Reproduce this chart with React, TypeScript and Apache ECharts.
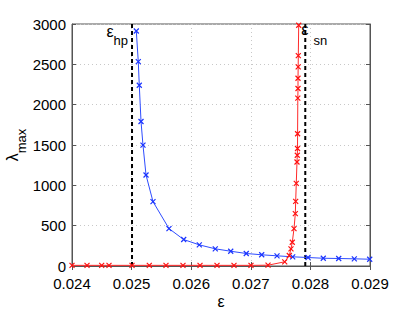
import React, { useEffect, useRef } from "react";
import * as echarts from "echarts";

const xTicks = [0.024, 0.025, 0.026, 0.027, 0.028, 0.029];
const yTicks = [0, 500, 1000, 1500, 2000, 2500, 3000];

const blueX = [0.025079, 0.025112, 0.025129, 0.025158, 0.025191, 0.025242, 0.025359, 0.025627, 0.025874, 0.026136, 0.026404, 0.026663, 0.026924, 0.027183, 0.02744, 0.027703, 0.02796, 0.028216, 0.028475, 0.028737, 0.028995];
const blueY = [2913, 2534, 2241, 1791, 1499, 1128, 798, 464, 328, 262, 213, 183, 155, 139, 126, 114, 105, 96, 93, 89, 84];

const redX = [0.024, 0.024252, 0.024498, 0.024621, 0.025007, 0.025297, 0.025577, 0.025862, 0.026148, 0.026433, 0.026718, 0.027003, 0.027289, 0.027569, 0.027646, 0.027674, 0.027696, 0.027725, 0.027747, 0.027753, 0.027763, 0.027775, 0.02778, 0.027784, 0.027785, 0.027789, 0.027792, 0.027792, 0.027795, 0.027797, 0.027804];
const redY = [8, 8, 8, 8, 8, 8, 8, 8, 8, 8, 8, 8, 10, 52, 130, 213, 294, 464, 649, 802, 1024, 1289, 1373, 1457, 1639, 2081, 2200, 2328, 2468, 2608, 2984];

const epsHp = 0.025007;
const epsSn = 0.027914;
const yRange = [0, 3000];

const FONT = "'Liberation Sans', Arial, Helvetica, sans-serif";
const crossPath = "path://M0,0L10,10M10,0L0,10";

export default function App() {
  const ref = useRef<HTMLDivElement>(null);
  useEffect(() => {
    const chart = echarts.init(ref.current!, null, { renderer: "svg" });
    const bluePts = blueX.map((x, i) => [x, blueY[i]]);
    const redPts = redX.map((x, i) => [x, redY[i]]);
    const axisLineColor = "#555";
    const rich = {
      e: { fontSize: 16, lineHeight: 16, verticalAlign: "top", fontFamily: FONT, color: "#000" },
      s: { fontSize: 13, lineHeight: 24, verticalAlign: "bottom", fontFamily: FONT, color: "#000" },
      s2: { fontSize: 13, lineHeight: 26, verticalAlign: "bottom", fontFamily: FONT, color: "#000", padding: [0, 0, 0, 5] },
    };
    const dashed = (x: number) => ({
      type: "line",
      data: yRange.map((y) => [x, y]),
      symbol: "none",
      lineStyle: { color: "#000", type: [4, 3], width: 2 },
      silent: true,
      z: 2,
    });
    chart.setOption({
      animation: false,
      backgroundColor: "#fff",
      grid: { left: 72, right: 39, top: 24, bottom: 45, show: true, borderColor: axisLineColor, borderWidth: 1, containLabel: false, outerBoundsMode: "none" },
      xAxis: [
        {
          type: "value",
          min: 0.024,
          max: 0.029,
          interval: 0.001,
          name: "ε",
          nameLocation: "middle",
          nameGap: 27,
          nameMoveOverlap: false,
          nameTextStyle: { fontSize: 16, fontFamily: FONT, color: "#000" },
          axisLine: { show: true, onZero: false, lineStyle: { color: axisLineColor } },
          axisTick: { show: true, inside: true, length: 4, lineStyle: { color: axisLineColor } },
          axisLabel: { fontSize: 15, fontFamily: FONT, color: "#000", margin: 10, formatter: (v: number) => v.toFixed(3) },
          splitLine: { show: true, lineStyle: { color: "#c8c8c8", type: [1, 3], width: 1 } },
        },
        {
          type: "value",
          position: "top",
          min: 0.024,
          max: 0.029,
          interval: 0.001,
          axisLine: { show: true, lineStyle: { color: axisLineColor } },
          axisTick: { show: true, inside: true, length: 4, lineStyle: { color: axisLineColor } },
          axisLabel: { show: false },
          splitLine: { show: false },
        },
      ],
      yAxis: [
        {
          type: "value",
          min: 0,
          max: 3000,
          interval: 500,
          name: "{e|λ}{s|max}",
          nameLocation: "middle",
          nameGap: 44,
          nameMoveOverlap: false,
          nameRotate: 90,
          nameTextStyle: { rich },
          axisLine: { show: true, onZero: false, lineStyle: { color: axisLineColor } },
          axisTick: { show: true, inside: true, length: 4, lineStyle: { color: axisLineColor } },
          axisLabel: { fontSize: 15, fontFamily: FONT, color: "#000", margin: 6, formatter: (v: number) => String(v) },
          splitLine: { show: true, lineStyle: { color: "#c8c8c8", type: [1, 3], width: 1 } },
        },
        {
          type: "value",
          position: "right",
          min: 0,
          max: 3000,
          interval: 500,
          axisLine: { show: true, lineStyle: { color: axisLineColor } },
          axisTick: { show: true, inside: true, length: 4, lineStyle: { color: axisLineColor } },
          axisLabel: { show: false },
          splitLine: { show: false },
        },
      ],
      series: [
        dashed(epsHp),
        dashed(epsSn),
        {
          type: "line",
          data: bluePts,
          symbol: crossPath,
          symbolSize: 5,
          showAllSymbol: true,
          lineStyle: { color: "#2f4dff", width: 1 },
          itemStyle: { color: "none", borderColor: "#1a33ff", borderWidth: 1.2 },
          clip: true,
          z: 3,
        },
        {
          type: "line",
          data: redPts,
          symbol: crossPath,
          symbolSize: 5,
          showAllSymbol: true,
          lineStyle: { color: "#ff2a2a", width: 1 },
          itemStyle: { color: "none", borderColor: "#ff1010", borderWidth: 1.2 },
          clip: true,
          z: 3,
        },
      ],
    });
    const hpX = chart.convertToPixel({ xAxisIndex: 0 }, epsHp) as number;
    const snX = chart.convertToPixel({ xAxisIndex: 0 }, epsSn) as number;
    chart.setOption({
      graphic: [
        {
          type: "text",
          x: hpX - 4,
          y: 23,
          style: { text: "{e|ε}{s|hp}", rich, align: "right", verticalAlign: "top" },
          z: 10,
        },
        {
          type: "text",
          x: snX - 4,
          y: 21,
          style: { text: "{e|ε}{s2|sn}", rich, align: "left", verticalAlign: "top" },
          z: 10,
        },
      ],
    });
    return () => chart.dispose();
  }, []);
  return <div ref={ref} style={{ position: "fixed", left: 0, top: 0, width: 409, height: 311 }} />;
}
